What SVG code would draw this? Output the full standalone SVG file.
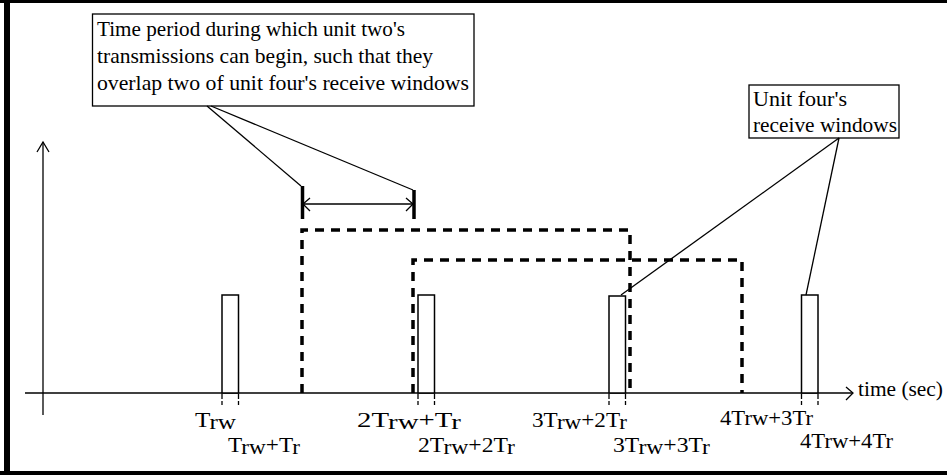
<svg xmlns="http://www.w3.org/2000/svg" width="947" height="475" viewBox="0 0 947 475">
<style>
  .ln{stroke:#000;stroke-width:1.3;fill:none}
  .box{fill:#fff;stroke:#000;stroke-width:1.3}
  .pulse{fill:#fff;stroke:#000;stroke-width:1.5}
  .dash{fill:none;stroke:#000;stroke-width:3.5;stroke-dasharray:9 7}
  .tick{stroke:#000;stroke-width:1.3;stroke-dasharray:5 2}
  .bar{stroke:#000;stroke-width:3.5}
  text{font-family:"Liberation Serif","Times New Roman",serif;font-size:21px;fill:#000}
  .lbl{font-size:20px}
</style>
<rect width="947" height="475" fill="#fff"/>
<g id="frame">
  <rect x="0" y="0" width="947" height="3" fill="#000"/>
  <rect x="4" y="0" width="6" height="475" fill="#000"/>
  <rect x="0" y="471" width="947" height="4" fill="#000"/>
</g>
<g id="axes">
  <line class="ln" x1="43" y1="142" x2="43" y2="415"/>
  <polyline class="ln" points="37,152 43,142 49,152"/>
  <line class="ln" x1="25" y1="393" x2="853" y2="393"/>
  <polyline class="ln" points="846,387 853,393 846,400"/>
  <text x="858" y="396" textLength="85" lengthAdjust="spacingAndGlyphs">time (sec)</text>
</g>
<g id="windows">
  <path class="dash" d="M302,393 V230 H630 V393"/>
  <path class="dash" d="M413,393 V260 H742 V393"/>
</g>
<g id="pulse1"><rect class="pulse" x="222" y="295" width="16.5" height="98"/></g>
<g id="pulse2"><rect class="pulse" x="418" y="295" width="16.5" height="98"/></g>
<g id="pulse3"><rect class="pulse" x="609" y="296" width="16.5" height="97"/></g>
<g id="pulse4"><rect class="pulse" x="801.5" y="295" width="16.5" height="98"/></g>
<g id="ticks">
  <line class="tick" x1="222" y1="394" x2="222" y2="405"/>
  <line class="tick" x1="238.5" y1="394" x2="238.5" y2="405"/>
  <line class="tick" x1="418" y1="394" x2="418" y2="405"/>
  <line class="tick" x1="434.5" y1="394" x2="434.5" y2="405"/>
  <line class="tick" x1="609" y1="394" x2="609" y2="405"/>
  <line class="tick" x1="625.5" y1="394" x2="625.5" y2="405"/>
  <line class="tick" x1="801.5" y1="394" x2="801.5" y2="405"/>
  <line class="tick" x1="818" y1="394" x2="818" y2="405"/>
</g>
<g id="period-marker">
  <line class="bar" x1="302.5" y1="186" x2="302.5" y2="219"/>
  <line class="bar" x1="414" y1="190" x2="414" y2="219"/>
  <line class="ln" x1="303" y1="204" x2="413" y2="204"/>
  <polyline class="ln" points="310,198 303,204 310,211"/>
  <polyline class="ln" points="406,198 413,204 406,211"/>
</g>
<g id="callout-period">
  <rect class="box" x="92.5" y="14" width="381.5" height="92"/>
  <text x="97" y="36" textLength="308" lengthAdjust="spacingAndGlyphs">Time period during which unit two's</text>
  <text x="97" y="63" textLength="336" lengthAdjust="spacingAndGlyphs">transmissions can begin, such that they</text>
  <text x="97" y="90" textLength="372" lengthAdjust="spacingAndGlyphs">overlap two of unit four's receive windows</text>
</g>
<g id="callout-windows">
  <rect class="box" x="749" y="85" width="150" height="53"/>
  <text x="753" y="106" textLength="94" lengthAdjust="spacingAndGlyphs">Unit four's</text>
  <text x="753" y="132" textLength="144" lengthAdjust="spacingAndGlyphs">receive windows</text>
</g>
<g id="connectors">
  <line class="ln" x1="207" y1="106" x2="301" y2="186"/>
  <line class="ln" x1="211" y1="106" x2="413" y2="190"/>
  <line class="ln" x1="839" y1="138" x2="621" y2="295"/>
  <line class="ln" x1="839" y1="138" x2="806" y2="295"/>
</g>
<g id="labels">
  <text class="lbl" x="195" y="427" textLength="41" lengthAdjust="spacingAndGlyphs">T<tspan dy="2">rw</tspan></text>
  <text class="lbl" x="228" y="452" textLength="72" lengthAdjust="spacingAndGlyphs">T<tspan dy="2">rw</tspan><tspan dy="-2">+T</tspan><tspan dy="2">r</tspan></text>
  <text class="lbl" x="357" y="427" textLength="104" lengthAdjust="spacingAndGlyphs">2T<tspan dy="2">rw</tspan><tspan dy="-2">+T</tspan><tspan dy="2">r</tspan></text>
  <text class="lbl" x="418" y="452" textLength="97" lengthAdjust="spacingAndGlyphs">2T<tspan dy="2">rw</tspan><tspan dy="-2">+2T</tspan><tspan dy="2">r</tspan></text>
  <text class="lbl" x="532" y="427" textLength="95" lengthAdjust="spacingAndGlyphs">3T<tspan dy="2">rw</tspan><tspan dy="-2">+2T</tspan><tspan dy="2">r</tspan></text>
  <text class="lbl" x="613" y="452" textLength="97" lengthAdjust="spacingAndGlyphs">3T<tspan dy="2">rw</tspan><tspan dy="-2">+3T</tspan><tspan dy="2">r</tspan></text>
  <text class="lbl" x="720" y="425" textLength="93" lengthAdjust="spacingAndGlyphs">4Trw+3Tr</text>
  <text class="lbl" x="800" y="448" textLength="93" lengthAdjust="spacingAndGlyphs">4Trw+4Tr</text>
</g>
</svg>
